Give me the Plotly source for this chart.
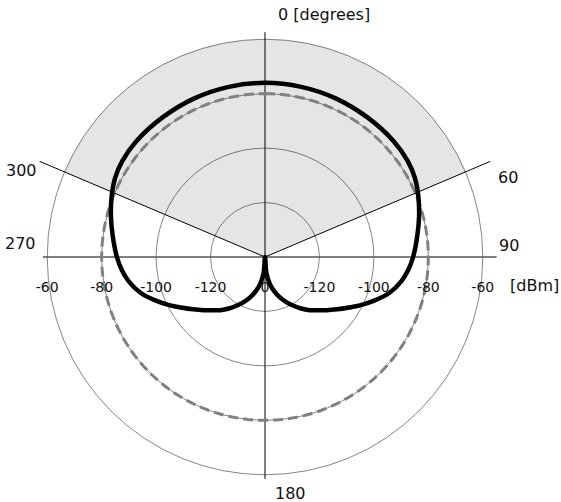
import numpy as np
import plotly.graph_objects as go

# ---- data ----
R_MIN, R_MAX = -140, -50
radial_ticks = [-120, -100, -80, -60]
radial_tick_text = ["-120", "-100", "-80", "-60"]
center_label = "0"

cardioid_theta = [0, 12, 24, 36, 48, 56, 62, 68, 75, 82, 90, 95, 100, 106, 112,
                  117, 121, 126, 131, 135, 140, 145, 150, 155, 160, 165, 170, 175, 180]
cardioid_dbm = [-76.0, -76.1, -76.2, -76.4, -76.4, -76.8, -77.7, -79.3, -81.4,
                -83.5, -85.6, -87.1, -89.1, -92.4, -97.0, -100.9, -104.0, -107.3,
                -110.2, -112.3, -114.5, -116.9, -119.4, -121.8, -124.3, -127.0,
                -130.1, -134.1, -140.0]

threshold_dbm = -80          # dashed reference circle
sector_half_width = 67       # shaded sector spans -67..+67 degrees
sector_outer = -60

angular_labels = ["0 [degrees]", "60", "90", "180", "270", "300"]
unit_label = "[dBm]"

# ---- build ----
W, H = 561, 502
fig = go.Figure()

# shaded sector
fig.add_trace(go.Barpolar(
    theta=[0], r=[sector_outer - R_MIN], base=[R_MIN],
    width=[2 * sector_half_width],
    marker=dict(color="rgba(0,0,0,0.10)", line=dict(width=0)),
    hoverinfo="skip", showlegend=False))

# axis lines
line_kw = dict(mode="lines", hoverinfo="skip", showlegend=False)
fig.add_trace(go.Scatterpolar(theta=[0, 0, 180], r=[-57.4, R_MIN, -58.5],
                              line=dict(color="black", width=1), **line_kw))
fig.add_trace(go.Scatterpolar(theta=[90, 90, 270], r=[-54.9, R_MIN, -58.4],
                              line=dict(color="#555555", width=1.4), **line_kw))
fig.add_trace(go.Scatterpolar(theta=[sector_half_width, 0, -sector_half_width],
                              r=[R_MAX, R_MIN, R_MAX],
                              line=dict(color="black", width=1), **line_kw))

# dashed threshold circle
circ_theta = np.arange(0, 361, 2)
fig.add_trace(go.Scatterpolar(theta=circ_theta, r=[threshold_dbm] * len(circ_theta),
                              line=dict(color="#808080", width=3, dash="10px,5px"),
                              **line_kw))

# cardioid pattern (mirror symmetric)
th_full = list(reversed(cardioid_theta)) + [360 - t for t in cardioid_theta[1:]]
r_full = list(reversed(cardioid_dbm)) + cardioid_dbm[1:]
fig.add_trace(go.Scatterpolar(theta=th_full, r=r_full,
                              line=dict(color="black", width=4.5, shape="spline",
                                        smoothing=1.0),
                              **line_kw))

# radial tick labels
lab_r = radial_ticks + radial_ticks + [R_MIN]
lab_t = [90] * len(radial_ticks) + [270] * len(radial_ticks) + [0]
lab_txt = ["<br>" + s for s in radial_tick_text + radial_tick_text + [center_label]]
fig.add_trace(go.Scatterpolar(theta=lab_t, r=lab_r, mode="markers+text", text=lab_txt,
                              textposition="bottom center",
                              marker=dict(size=8, opacity=0),
                              textfont=dict(family="DejaVu Sans", size=14, color="#111111"),
                              hoverinfo="skip", showlegend=False))

fig.update_layout(
    width=W, height=H,
    margin=dict(l=0, r=0, t=0, b=0),
    paper_bgcolor="white",
    showlegend=False,
    polar=dict(
        domain=dict(x=[20 / W, 510 / W], y=[0, 490 / H]),
        bgcolor="rgba(0,0,0,0)",
        radialaxis=dict(range=[R_MIN, R_MAX], tickvals=radial_ticks,
                        showticklabels=False, ticks="", showline=False,
                        gridcolor="#858585", gridwidth=1.2),
        angularaxis=dict(rotation=90, direction="clockwise", showgrid=False,
                         showticklabels=False, ticks="", showline=False),
    ),
)

# angular labels (paper coordinates)
ann_pos = [(276, 15, "left"), (496, 177, "left"), (497, 245, "left"),
           (273, 493, "left"), (38, 243, "right"), (39, 171, "right")]
for txt, (px, py, xa) in zip(angular_labels, ann_pos):
    fig.add_annotation(x=px / W, y=1 - py / H, xref="paper", yref="paper",
                       text=txt, showarrow=False, xanchor=xa, yanchor="middle",
                       font=dict(family="DejaVu Sans", size=16, color="#111111"))
fig.add_annotation(x=508 / W, y=1 - 285 / H, xref="paper", yref="paper",
                   text=unit_label, showarrow=False, xanchor="left", yanchor="middle",
                   font=dict(family="DejaVu Sans", size=16, color="#111111"))

fig.write_html("out.html", config={"displayModeBar": False},
               post_script="document.body.style.margin='0';document.body.style.overflow='hidden';")
